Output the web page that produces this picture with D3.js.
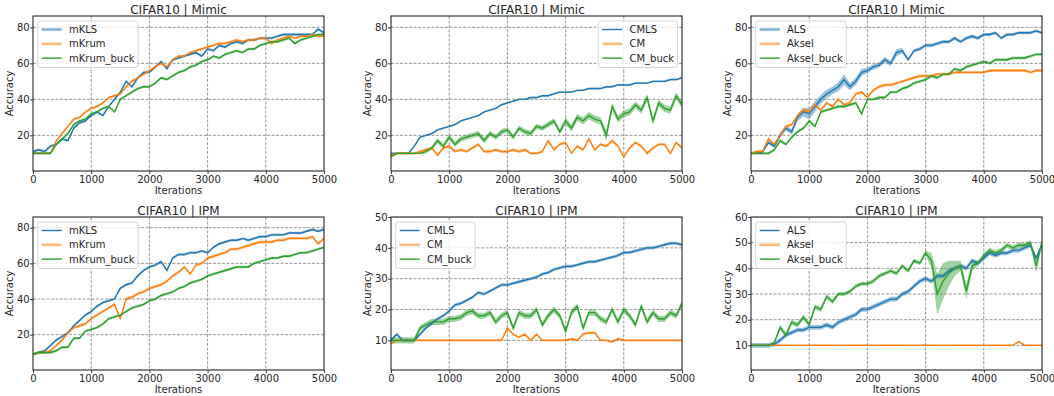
<!DOCTYPE html>
<html>
<head>
  <meta charset="utf-8">
  <script src="https://d3js.org/d3.v7.min.js"></script>
  <style>
    body { margin: 0; background: #fff; }
    text { font-family: "DejaVu Sans", sans-serif; fill: #262626; }
  </style>
</head>
<body>
<script>
    var iterations = d3.range(0, 5001, 100);
    var colors = ["#1f77b4", "#ff7f0e", "#2ca02c"];
    var xTicks = [0, 1000, 2000, 3000, 4000, 5000];

    // CIFAR10 | Mimic, krum family
    var mimicKLS = [11,12,11,14,15,18,17,24,27,28, 31,33,31,36,40,44,50,47,52,55, 55,58,61,57,62,63,64,65,66,64, 68,67,70,69,71,72,71,73,73,74, 74,74,75,76,76,76,76,76,76,79, 77];
    var mimicKrum = [10,10,10,10,17,21,25,29,30,33, 35,36,38,41,42,43,47,50,52,54, 56,58,60,58,62,64,64,66,67,68, 69,70,71,71,72,73,72,73,73,74, 74,71,73,74,75,74,75,75,76,75, 75];
    var mimicKrumBuck = [10,10,10,10,15,18,21,26,28,29, 32,33,35,36,33,40,42,44,46,47, 47,49,52,51,53,55,56,58,59,61, 62,64,63,65,66,67,66,68,68,70, 71,72,72,73,74,71,73,74,75,76, 76];

    // CIFAR10 | Mimic, CM family
    var mimicCMLS = [10,10,10,10,14,19,20,21,23,24, 25,26,28,29,30,31,33,34,35,37, 38,39,40,40,41,41,42,42,43,44, 44,44,45,45,46,46,46,47,47,48, 48,48,49,49,49,50,50,50,51,51, 52];
    var mimicCM = [9,10,10,10,10,11,12,13,9,13, 14,11,12,11,13,15,11,11,12,11, 11,12,11,12,10,10,11,17,12,15, 16,10,14,12,18,12,15,14,17,14, 8,13,16,14,10,13,15,15,10,16, 13];
    var mimicCMBuck = [8,10,10,10,10,10,11,13,17,14, 19,15,18,19,20,21,17,21,19,22, 23,19,24,22,21,25,24,26,28,22, 28,24,30,28,31,29,28,20,36,29, 32,33,37,34,41,28,38,35,34,42, 37];
    var mimicCMBuckSpread = [0.3,0.3,0.3,0.3,0.3,0.5,1,1,1.5,1.5, 1.5,1.5,1.5,1.5,1.5,1.5,1.5,1.5,1.5,1.5, 1.5,1.5,1.5,1.5,1.5,1.5,1.5,1.5,1.5,1.5, 2,2,2,2,2,2,2,3,2,2, 2,2,2,2,2,2,2,2,2,2, 2];

    // CIFAR10 | Mimic, Aksel family
    var mimicALS = [10,10,11,16,14,20,24,22,30,33, 32,36,40,43,45,47,51,47,50,55, 56,58,59,62,60,66,67,62,67,68, 70,70,71,72,72,74,72,74,75,74, 76,76,77,74,76,76,77,77,77,78, 77];
    var mimicALSSpread = [0.3,0.3,0.5,1,1,1.5,1.5,1.5,2,2.5, 3,3,2.5,2.5,2,2.5,3,2,2,2, 1.5,1.5,1.5,1.5,1.5,2,1.5,1,1,1, 1,1,1,1,1,1,1,1,1,1, 0.8,0.8,0.8,0.8,0.8,0.8,0.8,0.8,0.8,0.8, 0.8];
    var mimicAksel = [10,11,11,18,15,20,25,26,31,34, 33,37,34,38,36,40,37,38,43,44, 41,45,47,48,48,49,50,51,52,53, 53,53,54,54,54,55,55,55,55,55, 55,56,56,56,56,56,56,56,55,56, 56];
    var mimicAkselBuck = [10,10,10,10,12,17,15,19,22,24, 28,25,33,34,35,36,36,37,38,32, 40,40,41,41,44,44,46,47,49,50, 51,53,52,54,54,57,56,58,59,60, 61,60,62,62,62,63,63,63,64,65, 65];

    // CIFAR10 | IPM, krum family
    var ipmKLS = [9,10,11,14,17,19,21,25,28,31, 33,36,38,39,40,46,48,49,53,56, 58,59,61,56,63,65,65,66,66,67, 66,69,71,72,73,73,74,73,74,75, 75,76,76,76,77,77,77,78,79,78, 79];
    var ipmKrum = [9,10,10,11,14,17,21,24,25,26, 29,31,33,35,37,29,40,41,43,44, 46,47,48,50,53,55,58,54,59,60, 63,64,65,66,68,68,69,70,71,72, 72,72,73,73,74,74,74,74,75,71, 74];
    var ipmKrumBuck = [9,10,10,10,11,13,13,18,18,22, 23,24,26,29,30,31,33,35,36,37, 39,40,42,43,44,46,47,49,50,51, 53,54,55,56,57,58,58,58,60,61, 62,63,63,64,64,65,66,66,67,68, 69];

    // CIFAR10 | IPM, CM family
    var ipmCMLS = [10,12,10,10,10,12,14,15.5,17,18, 19.5,21.5,22,23,24,25.5,25,26,27,28, 28,28.5,29,29.5,30,30.5,31.5,32,33,33.5, 34,34,34.5,35,35.5,35.5,36,36.5,37,37.5, 38.5,38.5,39,39.5,40,40,40.5,41,41.5,41.5, 41];
    var ipmCM = [9,10,10,10,10,10,10,10,10,10, 10,10,10,10,10,10,10,10,10,10, 14,12,11,12,10,12,10,10,10,10, 10,10.5,10,12,12.5,12.5,10,10,9.5,10.5, 10,10,10,10,10,10,10,10,10,10, 10];
    var ipmCMBuck = [10,10,10,10,10,14,15,16,16,16, 17,17,17.5,19,19.5,18,18,19,16,18, 19,14,19,18,18,20,15,18,20,18, 13,19,21,14,19,19,17,16,20,16, 20,18,15,21,16,19,17,17,19,18, 22];

    // CIFAR10 | IPM, Aksel family
    var ipmALS = [10,10,10,10,10.5,12,14,15,16,16, 17,17,17,18,17,19,20,21,22,24, 24,25,26,27,28,28,30,31,33,35, 36,35,37,37,39,40,41,40,43,42, 44,46,45,46,46,47,47,48,49,44, 49];
    var ipmAksel = [10,10,10,10,10,10,10,10,10,10, 10,10,10,10,10,10,10,10,10,10, 10,10,10,10,10,10,10,10,10,10, 10,10,10,10,10,10,10,10,10,10, 10,10,10,10,10,10,11.5,10,10,10, 10];
    var ipmAkselBuck = [10,10,10,10,11,17,14,19,18,21, 18,25,24,29,27,30,30,31,33,34, 34,35,37,38,39,38,41,39,43,42, 46,43,30,35,38,40,41,31,41,42, 45,47,46,47,49,48,49,49,50,41, 50];
    var ipmAkselBuckSpread = [0.3,0.3,0.3,0.5,0.5,1,1,1,1,1, 1,1,1,1,1,0.8,0.8,0.8,0.8,0.8, 0.8,0.8,0.8,0.8,0.8,0.8,0.8,0.8,0.8,0.8, 1,3,8,7,5,3,2,3,2,1, 1,1,1,1,1,1,1,1,1,3, 1];

    var panels = [
      { title: "CIFAR10 | Mimic", names: ["mKLS", "mKrum", "mKrum_buck"], series: [mimicKLS, mimicKrum, mimicKrumBuck], spread: [0.7, 0.7, 0.7], yDomain: [0.2, 86.3], yTicks: [20, 40, 60, 80], legend: "left", light: [1, 1, 0] },
      { title: "CIFAR10 | Mimic", names: ["CMLS", "CM", "CM_buck"], series: [mimicCMLS, mimicCM, mimicCMBuck], spread: [0.5, 0.8, mimicCMBuckSpread], yDomain: [0.2, 86.3], yTicks: [20, 40, 60, 80], legend: "right", light: [0, 1, 0] },
      { title: "CIFAR10 | Mimic", names: ["ALS", "Aksel", "Aksel_buck"], series: [mimicALS, mimicAksel, mimicAkselBuck], spread: [mimicALSSpread, 0.8, 0.8], yDomain: [0.2, 86.3], yTicks: [20, 40, 60, 80], legend: "left", light: [1, 1, 0] },
      { title: "CIFAR10 | IPM", names: ["mKLS", "mKrum", "mKrum_buck"], series: [ipmKLS, ipmKrum, ipmKrumBuck], spread: [0.7, 0.8, 0.7], yDomain: [0.2, 86], yTicks: [20, 40, 60, 80], legend: "left", light: [0, 1, 0] },
      { title: "CIFAR10 | IPM", names: ["CMLS", "CM", "CM_buck"], series: [ipmCMLS, ipmCM, ipmCMBuck], spread: [0.5, 0.4, 1], yDomain: [0.4, 50], yTicks: [10, 20, 30, 40, 50], legend: "left", light: [0, 1, 0] },
      { title: "CIFAR10 | IPM", names: ["ALS", "Aksel", "Aksel_buck"], series: [ipmALS, ipmAksel, ipmAkselBuck], spread: [0.9, 0.3, ipmAkselBuckSpread], yDomain: [0.4, 60], yTicks: [10, 20, 30, 40, 50, 60], legend: "left", light: [0, 1, 0] }
    ];

    var width = 1054, height = 396;
    var colLeft = [33, 391, 751], plotW = 291;
    var rowTop = [16, 217], plotH = [155, 153];

    var svg = d3.select("body").append("svg")
      .attr("width", width)
      .attr("height", height);

    panels.forEach(function(p, i) {
      var col = i % 3, row = Math.floor(i / 3);
      var h = plotH[row];
      var g = svg.append("g").attr("transform", "translate(" + colLeft[col] + "," + rowTop[row] + ")");

      var x = d3.scaleLinear().domain([0, 5000]).range([0, plotW]);
      var y = d3.scaleLinear().domain(p.yDomain).range([h, 0]);

      var clipId = "clip" + i;
      g.append("clipPath").attr("id", clipId)
        .append("rect").attr("width", plotW).attr("height", h);

      var plot = g.append("g").attr("clip-path", "url(#" + clipId + ")");

      // shaded bands first
      p.series.forEach(function(vals, k) {
        var sp = p.spread[k];
        var s = function(j) { return Array.isArray(sp) ? sp[j] : sp; };
        var area = d3.area()
          .x(function(d, j) { return x(iterations[j]); })
          .y0(function(d, j) { return y(d - s(j)); })
          .y1(function(d, j) { return y(d + s(j)); });
        plot.append("path").datum(vals)
          .attr("d", area)
          .attr("fill", colors[k])
          .attr("opacity", 0.45);
      });

      // grid
      var grid = plot.append("g");
      grid.selectAll(".gx").data(xTicks.slice(1, -1)).enter().append("line")
        .attr("x1", function(d) { return x(d); }).attr("x2", function(d) { return x(d); })
        .attr("y1", 0).attr("y2", h);
      grid.selectAll(".gy").data(p.yTicks).enter().append("line")
        .attr("x1", 0).attr("x2", plotW)
        .attr("y1", function(d) { return y(d); }).attr("y2", function(d) { return y(d); });
      grid.selectAll("line")
        .attr("stroke", "#707070")
        .attr("stroke-width", 0.9)
        .attr("stroke-dasharray", "3,1.5")
        .attr("opacity", 0.8);

      // lines
      p.series.forEach(function(vals, k) {
        var line = d3.line()
          .x(function(d, j) { return x(iterations[j]); })
          .y(function(d) { return y(d); });
        plot.append("path").datum(vals)
          .attr("d", line)
          .attr("fill", "none")
          .attr("stroke", colors[k])
          .attr("stroke-width", 1.4);
      });

      // axes
      var xAxis = d3.axisBottom(x).tickValues(xTicks).tickSize(3).tickPadding(1.8).tickFormat(d3.format("d"));
      var yAxis = d3.axisLeft(y).tickValues(p.yTicks).tickSize(3).tickPadding(0.3);
      var gx = g.append("g").attr("transform", "translate(0," + h + ")").call(xAxis);
      var gy = g.append("g").call(yAxis);
      [gx, gy].forEach(function(a) {
        a.select(".domain").remove();
        a.selectAll("line").attr("stroke", "#262626").attr("stroke-width", 0.9);
        a.selectAll("text").attr("font-size", 10).attr("font-family", "DejaVu Sans").attr("fill", "#262626");
      });

      g.append("rect")
        .attr("width", plotW).attr("height", h)
        .attr("fill", "none")
        .attr("stroke", "#262626")
        .attr("stroke-width", 1.1);

      // title and labels
      g.append("text")
        .attr("x", plotW / 2).attr("y", -2.2)
        .attr("text-anchor", "middle")
        .attr("font-size", 12)
        .text(p.title);
      g.append("text")
        .attr("x", plotW / 2).attr("y", h + 22.6)
        .attr("text-anchor", "middle")
        .attr("font-size", 10)
        .text("Iterations");
      g.append("text")
        .attr("transform", "translate(-23.5," + (h / 2) + ") rotate(-90)")
        .attr("dy", "0.35em")
        .attr("text-anchor", "middle")
        .attr("font-size", 10)
        .text("Accuracy");

      // legend
      var leg = g.append("g");
      var box = leg.append("rect")
        .attr("rx", 2.5).attr("ry", 2.5)
        .attr("fill", "#fff").attr("fill-opacity", 0.8)
        .attr("stroke", "#cccccc").attr("stroke-width", 0.8);
      var rowsY = [8.5, 22.8, 37.1];
      var maxW = 0;
      p.names.forEach(function(name, k) {
        leg.append("line")
          .attr("x1", 4).attr("x2", 24)
          .attr("y1", rowsY[k]).attr("y2", rowsY[k])
          .attr("stroke", colors[k])
          .attr("stroke-width", p.light[k] ? 2.6 : 1.4)
          .attr("stroke-opacity", p.light[k] ? 0.55 : 1);
        var t = leg.append("text")
          .attr("x", 31.3).attr("y", rowsY[k])
          .attr("dy", "0.35em")
          .attr("font-size", 10)
          .text(name);
        maxW = Math.max(maxW, t.node().getComputedTextLength());
      });
      var boxW = 31.3 + maxW + 3.5;
      box.attr("width", boxW).attr("height", 46.5);
      var lx = p.legend === "left" ? 4.7 : plotW - 4.4 - boxW;
      leg.attr("transform", "translate(" + lx + ",5)");
    });
</script>
</body>
</html>
